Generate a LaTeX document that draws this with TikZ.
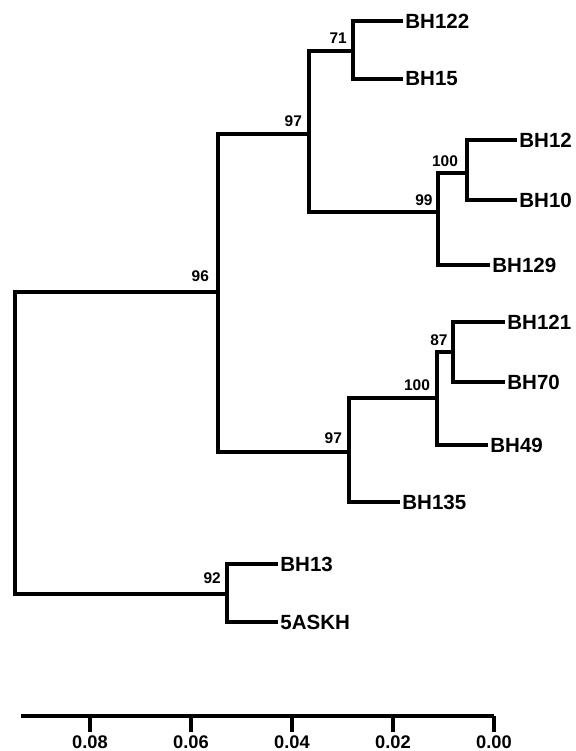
\documentclass[tikz,border=0pt]{standalone}
\usepackage{fontspec}
\setmainfont{Liberation Sans}
\usetikzlibrary{positioning}

\begin{document}
\begin{tikzpicture}[
    x=0.025cm,y=-0.025cm,
    branch/.style={line width=2.2pt},
    taxon/.style={anchor=west,inner sep=1.5pt,font=\fontsize{14.6}{16}\selectfont\bfseries},
    boot/.style={inner sep=0pt,font=\fontsize{11}{12}\selectfont\bfseries},
    scalelbl/.style={inner sep=0pt,font=\fontsize{13}{14}\selectfont\bfseries}
  ]
    \useasboundingbox (0,0) rectangle (576,751);

    % internal nodes
    \coordinate (root) at (15,443);
    \coordinate (n96) at (218,292);
    \coordinate (n97a) at (309,134);
    \coordinate (n71) at (353,51);
    \coordinate (n99) at (438,212);
    \coordinate (n100a) at (467,173);
    \coordinate (n97b) at (349,452);
    \coordinate (n100b) at (437,398);
    \coordinate (n87) at (453,352);
    \coordinate (n92) at (227,594);

    % taxa
    \node[taxon] (bh122) at (403,21) {BH122};
    \node[taxon] (bh15) at (403,79) {BH15};
    \node[taxon] (bh12) at (517,140) {BH12};
    \node[taxon] (bh10) at (517,200) {BH10};
    \node[taxon] (bh129) at (490,265) {BH129};
    \node[taxon] (bh121) at (505,322) {BH121};
    \node[taxon] (bh70) at (505,382) {BH70};
    \node[taxon] (bh49) at (488,445) {BH49};
    \node[taxon] (bh135) at (400,502) {BH135};
    \node[taxon] (bh13) at (278,564) {BH13};
    \node[taxon] (askh) at (278,622) {5ASKH};

    % branches
    \draw[branch] (root) |- (n96);
    \draw[branch] (root) |- (n92);
    \draw[branch] (n96) |- (n97a);
    \draw[branch] (n96) |- (n97b);
    \draw[branch] (n97a) |- (n71);
    \draw[branch] (n97a) |- (n99);
    \draw[branch] (n71) |- (bh122.west);
    \draw[branch] (n71) |- (bh15.west);
    \draw[branch] (n99) |- (n100a);
    \draw[branch] (n99) |- (bh129.west);
    \draw[branch] (n100a) |- (bh12.west);
    \draw[branch] (n100a) |- (bh10.west);
    \draw[branch] (n97b) |- (n100b);
    \draw[branch] (n97b) |- (bh135.west);
    \draw[branch] (n100b) |- (n87);
    \draw[branch] (n100b) |- (bh49.west);
    \draw[branch] (n87) |- (bh121.west);
    \draw[branch] (n87) |- (bh70.west);
    \draw[branch] (n92) |- (bh13.west);
    \draw[branch] (n92) |- (askh.west);

    % bootstrap values
    \node[boot,above left=0.24cm and 0.22cm of n96] (b96) {96};
    \node[boot,above left=0.17cm and 0.17cm of n97a] (b97a) {97};
    \node[boot,above left=0.17cm and 0.15cm of n71] (b71) {71};
    \node[boot,above left=0.14cm and 0.13cm of n99] (b99) {99};
    \node[boot,above left=0.14cm and 0.22cm of n100a] (b100a) {100};
    \node[boot,above left=0.19cm and 0.17cm of n97b] (b97b) {97};
    \node[boot,above left=0.17cm and 0.17cm of n100b] (b100b) {100};
    \node[boot,above left=0.16cm and 0.13cm of n87] (b87) {87};
    \node[boot,above left=0.24cm and 0.15cm of n92] (b92) {92};

    % scale bar
    \coordinate (sL) at (21,716);
    \coordinate (sR) at (494,716);
    \draw[branch] (sL) -- (sR);
    \foreach \val/\xx in {0.08/90,0.06/191,0.04/292,0.02/393,0.00/494}{
      \coordinate (t\xx) at (\xx,716);
      \draw[branch] (t\xx) -- ++(0,16);
      \node[scalelbl] (l\xx) at (\xx,742) {\val};
    }
  \end{tikzpicture}
\end{document}
